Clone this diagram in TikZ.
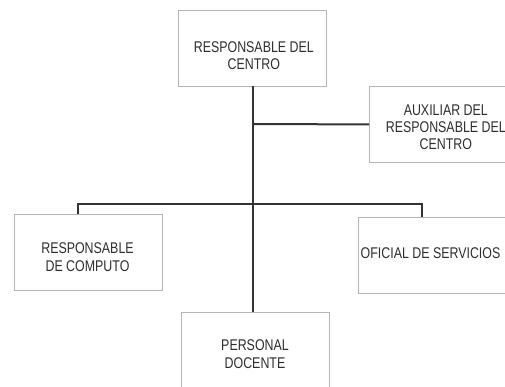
\documentclass[tikz,border=0pt]{standalone}
\usepackage{fontspec}
\setmainfont{Liberation Sans}[FakeStretch=0.80]
\definecolor{boxgray}{HTML}{B4B4B4}
\definecolor{linegray}{HTML}{333333}
\definecolor{txt}{HTML}{2E2E2E}
\begin{document}
\begin{tikzpicture}[x=1pt,y=-1pt,
  box/.style={draw=boxgray, line width=0.9pt, fill=white, minimum width=148pt, minimum height=76pt, anchor=north west, inner sep=0pt},
  lbl/.style={align=center, font=\fontsize{15.5}{17.3}\selectfont, text=txt, inner sep=0pt},
  conn/.style={draw=linegray, line width=2pt}]
\useasboundingbox (0,0) rectangle (505,387);
\clip (0,0) rectangle (505,387);
\fill[white] (0,0) rectangle (505,387);
% boxes
\node[box] (top) at (178,10) {};
\node[box, minimum width=170pt] (aux) at (369,86) {};
\node[box] (left) at (14,214) {};
\node[box, minimum width=170pt] (ofic) at (358,217) {};
\node[box] (bot) at (181,312) {};
% labels
\node[lbl] (topT) at (253.8,55.5) {RESPONSABLE DEL\\CENTRO};
\node[lbl] (auxT) at (445.8,127.4) {AUXILIAR DEL\\RESPONSABLE DEL\\CENTRO};
\node[lbl] (leftT) at (87.5,257.3) {RESPONSABLE\\DE COMPUTO};
\node[lbl] (oficT) at (430.5,253.3) {OFICIAL DE SERVICIOS};
\node[lbl] (botT) at (255,354.3) {PERSONAL\\DOCENTE};
% connectors
\coordinate (trunk) at (252.5,86);
\coordinate (auxj) at (252.5,124);
\coordinate (busl) at (78,204);
\coordinate (busr) at (422,204);
\draw[conn] (trunk) -- (trunk |- bot.north);
\draw[conn] (auxj) -- (aux.west);
\draw[conn] (busl |- left.north) -- (busl) -- (busr) -- (busr |- ofic.north);
\end{tikzpicture}
\end{document}
